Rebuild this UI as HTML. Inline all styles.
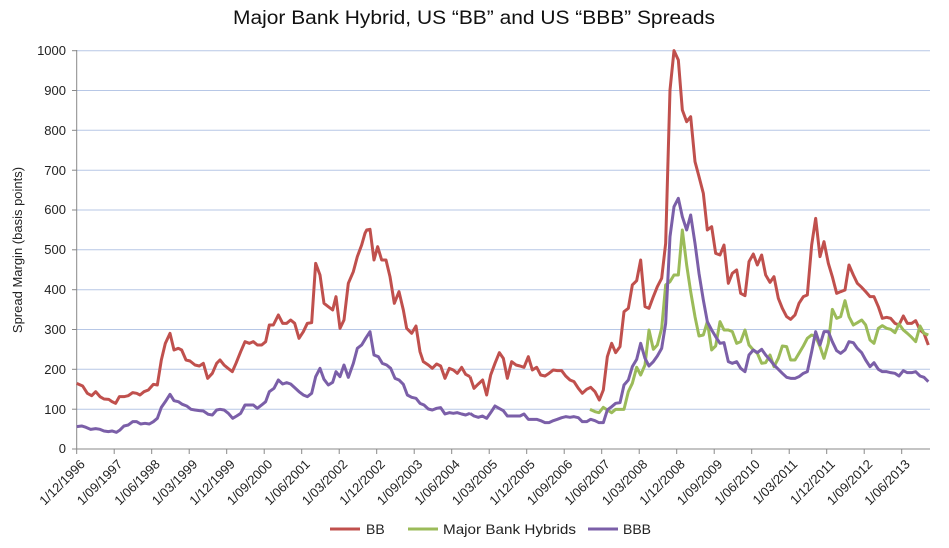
<!DOCTYPE html>
<html><head><meta charset="utf-8"><style>
html,body{margin:0;padding:0;background:#fff;}
svg{display:block;font-family:"Liberation Sans",sans-serif;}
</style></head><body>
<svg width="949" height="548" viewBox="0 0 949 548" xmlns="http://www.w3.org/2000/svg">
<rect width="949" height="548" fill="#fff"/>
<text x="474" y="24" font-size="19" text-anchor="middle" fill="#111" textLength="482" lengthAdjust="spacingAndGlyphs">Major Bank Hybrid, US “BB” and US “BBB” Spreads</text>
<g stroke="#b7c7e6" stroke-width="1">
<line x1="77" x2="930" y1="50.7" y2="50.7"/><line x1="77" x2="930" y1="90.5" y2="90.5"/>
<line x1="77" x2="930" y1="130.3" y2="130.3"/><line x1="77" x2="930" y1="170.2" y2="170.2"/>
<line x1="77" x2="930" y1="210" y2="210"/><line x1="77" x2="930" y1="249.8" y2="249.8"/>
<line x1="77" x2="930" y1="289.7" y2="289.7"/><line x1="77" x2="930" y1="329.5" y2="329.5"/>
<line x1="77" x2="930" y1="369.3" y2="369.3"/><line x1="77" x2="930" y1="409.2" y2="409.2"/>
</g>
<g stroke="#888" stroke-width="1">
<line x1="76.7" x2="76.7" y1="50" y2="449"/>
<line x1="72" x2="930" y1="449" y2="449"/>
<line x1="72" x2="76.7" y1="50.7" y2="50.7"/><line x1="72" x2="76.7" y1="90.5" y2="90.5"/><line x1="72" x2="76.7" y1="130.3" y2="130.3"/><line x1="72" x2="76.7" y1="170.2" y2="170.2"/><line x1="72" x2="76.7" y1="210" y2="210"/><line x1="72" x2="76.7" y1="249.8" y2="249.8"/><line x1="72" x2="76.7" y1="289.7" y2="289.7"/><line x1="72" x2="76.7" y1="329.5" y2="329.5"/><line x1="72" x2="76.7" y1="369.3" y2="369.3"/><line x1="72" x2="76.7" y1="409.2" y2="409.2"/>
<line x1="76.7" x2="76.7" y1="449" y2="454"/><line x1="114.2" x2="114.2" y1="449" y2="454"/><line x1="151.7" x2="151.7" y1="449" y2="454"/><line x1="189.2" x2="189.2" y1="449" y2="454"/><line x1="226.7" x2="226.7" y1="449" y2="454"/><line x1="264.2" x2="264.2" y1="449" y2="454"/><line x1="301.7" x2="301.7" y1="449" y2="454"/><line x1="339.2" x2="339.2" y1="449" y2="454"/><line x1="376.7" x2="376.7" y1="449" y2="454"/><line x1="414.2" x2="414.2" y1="449" y2="454"/><line x1="451.7" x2="451.7" y1="449" y2="454"/><line x1="489.2" x2="489.2" y1="449" y2="454"/><line x1="526.7" x2="526.7" y1="449" y2="454"/><line x1="564.2" x2="564.2" y1="449" y2="454"/><line x1="601.7" x2="601.7" y1="449" y2="454"/><line x1="639.2" x2="639.2" y1="449" y2="454"/><line x1="676.7" x2="676.7" y1="449" y2="454"/><line x1="714.2" x2="714.2" y1="449" y2="454"/><line x1="751.7" x2="751.7" y1="449" y2="454"/><line x1="789.2" x2="789.2" y1="449" y2="454"/><line x1="826.7" x2="826.7" y1="449" y2="454"/><line x1="864.2" x2="864.2" y1="449" y2="454"/><line x1="901.7" x2="901.7" y1="449" y2="454"/>
</g>
<g font-size="13" fill="#222" text-anchor="end">
<text x="66" y="55">1000</text><text x="66" y="95">900</text><text x="66" y="135">800</text><text x="66" y="175">700</text><text x="66" y="214">600</text><text x="66" y="254">500</text><text x="66" y="294">400</text><text x="66" y="334">300</text><text x="66" y="374">200</text><text x="66" y="414">100</text><text x="66" y="453">0</text>
</g>
<text transform="translate(22,250) rotate(-90)" font-size="13" text-anchor="middle" fill="#222">Spread Margin (basis points)</text>
<g font-size="13" fill="#222" text-anchor="end">
<text transform="translate(85.7,465) rotate(-45)">1/12/1996</text>
<text transform="translate(123.2,465) rotate(-45)">1/09/1997</text>
<text transform="translate(160.7,465) rotate(-45)">1/06/1998</text>
<text transform="translate(198.2,465) rotate(-45)">1/03/1999</text>
<text transform="translate(235.7,465) rotate(-45)">1/12/1999</text>
<text transform="translate(273.2,465) rotate(-45)">1/09/2000</text>
<text transform="translate(310.7,465) rotate(-45)">1/06/2001</text>
<text transform="translate(348.2,465) rotate(-45)">1/03/2002</text>
<text transform="translate(385.7,465) rotate(-45)">1/12/2002</text>
<text transform="translate(423.2,465) rotate(-45)">1/09/2003</text>
<text transform="translate(460.7,465) rotate(-45)">1/06/2004</text>
<text transform="translate(498.2,465) rotate(-45)">1/03/2005</text>
<text transform="translate(535.7,465) rotate(-45)">1/12/2005</text>
<text transform="translate(573.2,465) rotate(-45)">1/09/2006</text>
<text transform="translate(610.7,465) rotate(-45)">1/06/2007</text>
<text transform="translate(648.2,465) rotate(-45)">1/03/2008</text>
<text transform="translate(685.7,465) rotate(-45)">1/12/2008</text>
<text transform="translate(723.2,465) rotate(-45)">1/09/2009</text>
<text transform="translate(760.7,465) rotate(-45)">1/06/2010</text>
<text transform="translate(798.2,465) rotate(-45)">1/03/2011</text>
<text transform="translate(835.7,465) rotate(-45)">1/12/2011</text>
<text transform="translate(873.2,465) rotate(-45)">1/09/2012</text>
<text transform="translate(910.7,465) rotate(-45)">1/06/2013</text>
</g>

<g transform="translate(0,30) scale(0.33333)" fill="none" stroke-width="3" stroke-linejoin="round">
<polyline vector-effect="non-scaling-stroke" stroke="#c0504d" points="230,1060 248,1068 262,1090 275,1097 287,1085 300,1100 312,1107 326,1108 336,1115 347,1120 358,1100 372,1100 385,1097 398,1088 410,1090 420,1095 432,1085 445,1080 460,1063 472,1065 484,990 496,940 510,910 522,960 535,955 545,960 558,990 570,993 585,1005 598,1008 610,1000 623,1045 637,1030 650,1000 660,990 672,1005 684,1015 697,1025 708,1000 722,965 735,935 748,940 760,935 772,945 785,945 797,935 808,885 820,885 835,855 848,880 860,880 872,870 884,880 897,925 910,905 922,880 935,878 947,700 960,735 972,820 985,830 998,840 1008,800 1020,895 1032,870 1045,760 1060,725 1072,680 1085,645 1095,610 1100,600 1110,598 1122,690 1133,650 1145,690 1158,690 1170,740 1183,820 1197,785 1210,840 1220,895 1235,910 1248,888 1260,965 1270,995 1285,1005 1297,1015 1310,1002 1322,1008 1335,1045 1348,1015 1360,1020 1372,1030 1385,1012 1397,1033 1410,1040"/>
<polyline vector-effect="non-scaling-stroke" stroke="#7b5fa8" points="230,1190 245,1188 258,1192 272,1198 287,1196 300,1198 312,1203 325,1205 336,1203 349,1207 360,1200 372,1188 385,1185 398,1175 410,1175 422,1182 435,1180 448,1182 460,1175 472,1165 484,1132 496,1115 510,1093 522,1112 535,1115 547,1123 560,1128 573,1138 585,1140 598,1142 610,1143 625,1153 637,1155 650,1140 660,1138 672,1140 685,1150 698,1165 710,1158 722,1150 735,1125 748,1125 760,1125 772,1135 785,1125 797,1115 808,1085 822,1075 835,1050 848,1062 860,1058 872,1062 884,1073 897,1085 910,1095 922,1100 935,1090 947,1040 960,1015 972,1048 985,1065 998,1057 1008,1025 1020,1040 1032,1005 1045,1042 1060,1000 1072,955 1085,945 1097,925 1110,905 1122,975 1135,980 1147,1000 1160,1005 1172,1015 1185,1045 1197,1050 1210,1063 1222,1095 1235,1102 1248,1105 1260,1120 1272,1125 1285,1137 1297,1140 1310,1135 1322,1133 1335,1152 1348,1148 1360,1150 1372,1148 1385,1152 1397,1155 1410,1150"/>
</g>
<g transform="translate(470,30) scale(0.33333)" fill="none" stroke-width="3" stroke-linejoin="round">
<polyline vector-effect="non-scaling-stroke" stroke="#c0504d" points="0,1040 12,1075 25,1062 38,1050 50,1095 62,1035 75,1000 88,968 100,985 112,1045 125,995 138,1005 150,1008 162,1012 175,980 187,1020 200,1012 212,1035 225,1038 237,1030 250,1020 262,1022 275,1022 287,1038 300,1050 312,1055 325,1075 337,1090 350,1078 362,1072 375,1085 388,1110 400,1080 412,980 425,940 437,968 450,950 462,845 475,835 487,765 500,752 512,690 525,830 537,835 550,800 562,770 575,745 587,640 600,180 612,62 625,90 637,240 650,275 662,260 675,395 687,440 700,490 712,600 725,590 737,670 750,675 762,645 775,760 787,730 800,720 812,790 825,797 837,695 850,672 862,705 875,675 887,735 900,757 912,740 925,805 937,835 950,860 962,868 975,855 987,820 1000,800 1012,795 1025,645 1037,565 1050,680 1062,635 1075,700 1087,740 1100,790 1112,785 1125,780 1137,705 1150,735 1162,760 1175,772 1187,785 1200,800 1212,800 1225,830 1237,865 1250,862 1262,865 1275,880 1287,885 1300,858 1312,880 1325,880 1337,872 1350,900 1362,910 1375,945"/>
<polyline vector-effect="non-scaling-stroke" stroke="#9bbb59" points="360,1138 375,1145 387,1148 400,1132 412,1140 425,1148 437,1138 450,1138 462,1138 475,1085 487,1060 500,1012 512,1035 525,1005 537,900 550,958 562,945 575,895 587,765 600,755 612,735 625,735 637,600 650,705 662,785 675,860 687,918 700,915 712,875 725,960 737,948 750,875 762,900 775,900 787,905 800,940 812,935 825,900 837,945 850,960 862,970 875,1000 887,998 900,975 912,1010 925,985 937,948 950,950 962,990 975,990 987,970 1000,948 1012,925 1025,915 1037,920 1050,950 1062,985 1075,940 1087,838 1100,865 1112,860 1125,812 1137,860 1150,885 1162,878 1175,870 1187,885 1200,930 1212,940 1225,895 1237,887 1250,895 1262,898 1275,908 1287,882 1300,900 1312,910 1325,922 1337,935 1350,888 1362,910 1375,915"/>
<polyline vector-effect="non-scaling-stroke" stroke="#7b5fa8" points="0,1150 12,1158 25,1162 37,1158 50,1165 62,1148 75,1128 87,1135 100,1142 112,1158 125,1158 137,1158 150,1158 162,1152 175,1168 187,1168 200,1168 212,1172 225,1178 237,1178 250,1172 262,1168 275,1163 287,1160 300,1162 312,1160 325,1163 337,1175 350,1175 362,1168 375,1172 387,1178 400,1178 412,1140 425,1130 437,1120 450,1118 462,1065 475,1050 487,1010 500,988 512,940 525,985 537,1008 550,995 562,978 575,955 587,880 600,620 612,530 625,505 637,560 650,600 662,555 675,640 687,730 700,810 712,875 725,900 737,920 750,940 762,938 775,995 787,1000 800,995 812,1015 825,1025 837,975 850,960 862,968 875,958 887,975 900,990 912,1005 925,1018 937,1030 950,1042 962,1045 975,1045 987,1040 1000,1030 1012,1025 1025,965 1037,905 1050,945 1062,905 1075,905 1087,935 1100,962 1112,970 1125,960 1137,935 1150,938 1162,955 1175,968 1187,990 1200,1010 1212,998 1225,1018 1237,1025 1250,1025 1262,1028 1275,1030 1287,1038 1300,1022 1312,1028 1325,1028 1337,1025 1350,1038 1362,1042 1375,1055"/>
</g>

<g stroke-width="3">
<line x1="330" x2="360" y1="529" y2="529" stroke="#c0504d"/>
<line x1="408" x2="438" y1="529" y2="529" stroke="#9bbb59"/>
<line x1="588" x2="618" y1="529" y2="529" stroke="#7b5fa8"/>
</g>
<g font-size="14" fill="#222">
<text x="366" y="534">BB</text>
<text x="443" y="534" textLength="133" lengthAdjust="spacingAndGlyphs">Major Bank Hybrids</text>
<text x="623" y="534">BBB</text>
</g>
</svg>
</body></html>
